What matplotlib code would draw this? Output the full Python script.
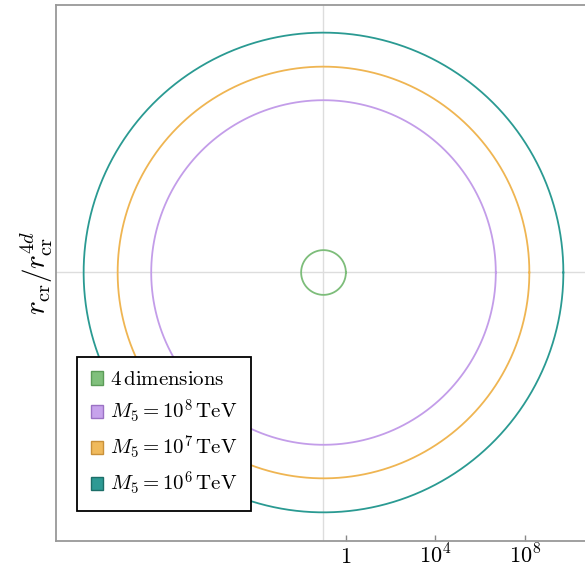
import numpy as np
import matplotlib
matplotlib.use('Agg')
import matplotlib.pyplot as plt
from matplotlib.patches import Patch

plt.rcParams['mathtext.fontset'] = 'cm'
plt.rcParams['font.family'] = 'serif'
plt.rcParams['font.serif'] = ['DejaVu Serif']

# radii of the critical-radius circles (in log10 units), centre at log10 = -1
labels = [r'$4\,\mathrm{dimensions}$', r'$M_5 = 10^8\,\mathrm{TeV}$',
          r'$M_5 = 10^7\,\mathrm{TeV}$', r'$M_5 = 10^6\,\mathrm{TeV}$']
radii = [1.0, 7.7, 9.2, 10.72]
line_colors = ['#7dbd7a', '#c39de9', '#efb552', '#2a9a92']
fill_colors = ['#80c07c', '#c7a3ec', '#f0ba5c', '#2d9a94']
edge_colors = ['#5c9c58', '#9b72c4', '#c9913a', '#1c6e68']
center = (-1.0, 0.0)
tick_pos = [0, 4, 8]
tick_lab = [r'$1$', r'$10^4$', r'$10^8$']

fig = plt.figure(figsize=(5.85, 5.67), dpi=100)
ax = fig.add_axes([56/585, 1-541/567, 529/585, 536/567])

t = np.linspace(0, 2*np.pi, 400)
for r, c in zip(radii, line_colors):
    ax.plot(center[0] + r*np.cos(t), center[1] + r*np.sin(t), color=c, lw=1.3, zorder=3)

ax.axvline(center[0], color='#dddddd', lw=1, zorder=1)
ax.axhline(center[1], color='#dddddd', lw=1, zorder=1)

ax.set_xlim(-12.955, 10.687)
ax.set_ylim(-12.0, 11.955)
ax.set_xticks(tick_pos)
ax.set_xticklabels(tick_lab, fontsize=16)
for lbl in ax.get_xticklabels():
    lbl.set_verticalalignment('baseline')
ax.set_yticks([])
ax.tick_params(axis='x', direction='in', length=4, width=1, color='#888888', pad=16)
for s in ['left', 'top', 'bottom']:
    ax.spines[s].set_color('#999999')
    ax.spines[s].set_linewidth(1.3)
ax.spines['right'].set_visible(False)

ax.set_ylabel(r'$r_\mathrm{cr}/r_\mathrm{cr}^{4d}$', fontsize=21, labelpad=1)

handles = [Patch(facecolor=f, edgecolor=e, lw=1) for f, e in zip(fill_colors, edge_colors)]
leg = ax.legend(handles, labels, loc='lower left', bbox_to_anchor=(0.0397, 0.056),
                borderaxespad=0, fontsize=15, fancybox=False, framealpha=1,
                edgecolor='black', handlelength=0.62, handleheight=0.62,
                handletextpad=0.3, labelspacing=0.4, borderpad=0.65)
leg.get_frame().set_linewidth(1.3)
leg.set_zorder(5)

plt.savefig('out.png', dpi=100)
